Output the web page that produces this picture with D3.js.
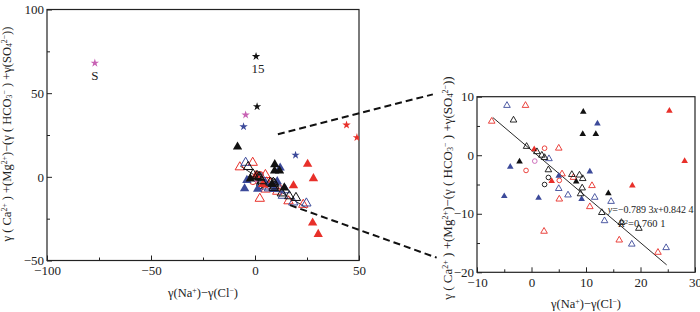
<!DOCTYPE html>
<html>
<head>
<meta charset="utf-8">
<script src="https://cdn.jsdelivr.net/npm/d3@7"></script>
<style>
  body { margin: 0; background: #fff; }
  svg, svg text { font-family: 'Liberation Serif', 'Times New Roman', 'DejaVu Serif', serif; }
</style>
</head>
<body>
<svg id="chart" width="700" height="312"></svg>
<script>
// Values: [γ(Na+)−γ(Cl−), γ(Ca2+)+γ(Mg2+)−(γ(HCO3−)+γ(SO42−))]
const blackFilled = [[9.5, 7.4], [9.4, 3.6], [11.8, 3.6], [-2.2, -1.1], [8.2, -4.5], [14.1, -6.5], [-8.4, 17.9]];
const blueFilled = [[12.1, 5.4], [-3.9, -2.0], [5.0, -3.5], [10.7, -2.8], [-5.0, -7.0], [1.3, -7.3], [9.2, -7.5]];
const redFilled = [[25.3, 7.6], [28.1, -1.0], [18.5, -5.2], [0.5, 1.0], [3.7, -4.4], [27.7, -27.5], [30.4, -34.3]];
const redOpen = [[-7.3, 5.8], [-1.1, 8.5], [5.0, 1.2], [5.6, -3.2], [7.7, -3.8], [11.1, -5.2], [5.1, -7.5],
  [10.7, -8.8], [2.3, -13.0], [16.1, -14.5], [23.2, -16.6]];
const blueOpen = [[-4.5, 8.5], [3.2, -0.6], [5.0, -5.7], [6.7, -6.8], [11.6, -7.2], [14.6, -7.9], [13.4, -11.2],
  [18.4, -15.2], [24.7, -15.8]];
const blackOpen = [[-3.3, 6.0], [-0.9, 1.5], [1.0, 0.6], [1.9, 0.0], [2.4, -0.4], [3.1, -2.5], [7.4, -3.3],
  [8.8, -3.4], [9.4, -4.0], [9.3, -5.6], [9.0, -6.6], [12.9, -9.8], [16.5, -11.5], [19.7, -12.5]];
const redCircles = [[2.4, 1.2], [-1.0, -2.6], [5.1, -4.3]];
const blackCircles = [[3.1, -3.8], [2.4, -5.0]];
const pinkCircles = [[0.6, -1.0]];
const blackStars = [[0.5, 72], [1, 42]];
const pinkStars = [[-77, 68], [-4.5, 37]];
const blueStars = [[-5.5, 30], [19.5, 13]];
const redStars = [[44, 31], [49, 23.5]];
const starLabels = [{at: [-77, 68], text: 'S'}, {at: [0.5, 72], text: '15'}];

// Linear fit shown in the zoomed panel
const fit = {slope: -0.7893, intercept: 0.8424, from: -7.1, to: 24.8};

const leftTicks = {x: [-100, -50, 0, 50], xMinor: [-75, -25, 25], y: [-50, 0, 50, 100], yMinor: [-25, 25, 75]};
const rightTicks = {x: [-10, 0, 10, 20, 30], xMinor: [-5, 5, 15, 25], y: [-20, -10, 0, 10], yMinor: [-15, -5, 5]};

const RED = '#e8302a', BLUE = '#3c4a9a', PINK = '#c862b4', BLACK = '#111';
const FONT = "'Liberation Serif', 'Times New Roman', serif";

const series = [
  {data: redOpen, shape: d3.symbolTriangle, color: RED, filled: false},
  {data: blueOpen, shape: d3.symbolTriangle, color: BLUE, filled: false},
  {data: redCircles, shape: d3.symbolCircle, color: RED, filled: false},
  {data: blackCircles, shape: d3.symbolCircle, color: BLACK, filled: false},
  {data: pinkCircles, shape: d3.symbolCircle, color: PINK, filled: false},
  {data: blueFilled, shape: d3.symbolTriangle, color: BLUE, filled: true},
  {data: redFilled, shape: d3.symbolTriangle, color: RED, filled: true},
  {data: blackOpen, shape: d3.symbolTriangle, color: BLACK, filled: false},
  {data: blackFilled, shape: d3.symbolTriangle, color: BLACK, filled: true},
  {data: blackStars, shape: d3.symbolStar, color: BLACK, filled: true},
  {data: pinkStars, shape: d3.symbolStar, color: PINK, filled: true},
  {data: blueStars, shape: d3.symbolStar, color: BLUE, filled: true},
  {data: redStars, shape: d3.symbolStar, color: RED, filled: true},
];

const svg = d3.select('#chart').attr('font-family', FONT);
const fmt = d3.format('d');

// Y title with super/subscripts: γ ( Ca2+ ) +(Mg2+)−(γ ( HCO3− ) +γ(SO42−))
const yTitleParts = [
  ['γ ( Ca'], ['2+', 'sup'], [' ) +(Mg'], ['2+', 'sup'], [')−(γ ( HCO'], ['3', 'sub'], ['−', 'sup'],
  [' ) +γ(SO'], ['4', 'sub'], ['2−', 'sup'], ['))'],
];
const xTitleParts = [['γ(Na'], ['+', 'sup'], [')−γ(Cl'], ['−', 'sup'], [')']];

function richText(sel, parts, size) {
  sel.attr('font-family', FONT);
  parts.forEach(([t, kind]) => {
    const ts = sel.append('tspan').text(t);
    if (kind) {
      ts.attr('font-size', size * 0.62)
        .attr('baseline-shift', kind === 'sup' ? '45%' : '-15%');
    }
  });
}

function panel({xDomain, yDomain, xRange, yRange, ticks, id, sizes}) {
  const x = d3.scaleLinear().domain(xDomain).range(xRange);
  const y = d3.scaleLinear().domain(yDomain).range(yRange);
  const g = svg.append('g');

  svg.append('clipPath').attr('id', id)
    .append('rect')
      .attr('x', xRange[0]).attr('y', yRange[1])
      .attr('width', xRange[1] - xRange[0]).attr('height', yRange[0] - yRange[1]);

  // inward ticks, major with labels and minor without
  const styleAxis = a => a
    .attr('font-family', FONT)
    .attr('font-size', 13)
    .call(a => a.select('.domain').remove())
    .call(a => a.selectAll('.tick line').attr('stroke', '#222'))
    .call(a => a.selectAll('.tick text').attr('fill', '#222'));

  g.append('g').attr('transform', `translate(0,${yRange[0]})`)
    .call(d3.axisBottom(x).tickValues(ticks.x).tickSize(-5).tickPadding(5).tickFormat(fmt))
    .call(styleAxis);
  g.append('g').attr('transform', `translate(0,${yRange[0]})`)
    .call(d3.axisBottom(x).tickValues(ticks.xMinor).tickSize(-3).tickFormat(''))
    .call(styleAxis);
  g.append('g').attr('transform', `translate(${xRange[0]},0)`)
    .call(d3.axisLeft(y).tickValues(ticks.y).tickSize(-5).tickPadding(3).tickFormat(fmt))
    .call(styleAxis);
  g.append('g').attr('transform', `translate(${xRange[0]},0)`)
    .call(d3.axisLeft(y).tickValues(ticks.yMinor).tickSize(-3).tickFormat(''))
    .call(styleAxis);

  g.append('rect')
    .attr('x', xRange[0]).attr('y', yRange[1])
    .attr('width', xRange[1] - xRange[0]).attr('height', yRange[0] - yRange[1])
    .attr('fill', 'none')
    .attr('stroke', '#222')
    .attr('stroke-width', 1.2);

  const marks = g.append('g').attr('clip-path', `url(#${id})`);

  marks.append('line')
    .attr('x1', x(fit.from)).attr('y1', y(fit.slope * fit.from + fit.intercept))
    .attr('x2', x(fit.to)).attr('y2', y(fit.slope * fit.to + fit.intercept))
    .attr('stroke', BLACK)
    .attr('stroke-width', 0.9);

  series.forEach(s => {
    const size = s.shape === d3.symbolTriangle ? sizes.triangle
      : s.shape === d3.symbolCircle ? sizes.circle : sizes.star;
    marks.append('g')
      .selectAll('path')
      .data(s.data)
      .join('path')
        .attr('transform', d => `translate(${x(d[0])},${y(d[1])})`)
        .attr('d', d3.symbol(s.shape, size))
        .attr('fill', s.filled ? s.color : 'none')
        .attr('stroke', s.filled ? 'none' : s.color)
        .attr('stroke-width', sizes.stroke);
  });

  const xMid = (xRange[0] + xRange[1]) / 2;
  richText(g.append('text')
    .attr('x', xMid).attr('y', yRange[0] + 36)
    .attr('text-anchor', 'middle')
    .attr('font-size', 12.5)
    .attr('fill', '#222'), xTitleParts, 12.5);

  return {x, y, g};
}

const left = panel({
  id: 'clip-left',
  xDomain: [-100, 50], yDomain: [-50, 100],
  xRange: [47, 359], yRange: [260.5, 9.5],
  ticks: leftTicks,
  sizes: {triangle: 38, circle: 36, star: 22, stroke: 1},
});

const right = panel({
  id: 'clip-right',
  xDomain: [-10, 30], yDomain: [-20, 10],
  xRange: [477, 695], yRange: [272.3, 96.7],
  ticks: rightTicks,
  sizes: {triangle: 19, circle: 17, star: 14, stroke: 0.9},
});

// Y axis titles
richText(svg.append('text')
  .attr('transform', `translate(11,${134}) rotate(-90)`)
  .attr('text-anchor', 'middle')
  .attr('font-size', 12.5)
  .attr('fill', '#222'), yTitleParts, 12.5);

richText(svg.append('text')
  .attr('transform', `translate(452,${188}) rotate(-90)`)
  .attr('text-anchor', 'middle')
  .attr('font-size', 13)
  .attr('fill', '#222'), yTitleParts, 13);

// Star labels in the overview panel
left.g.selectAll('.star-label')
  .data(starLabels)
  .join('text')
    .attr('x', d => left.x(d.at[0]) + (d.text === 'S' ? 0 : 2))
    .attr('y', d => left.y(d.at[1]) + 17)
    .attr('text-anchor', 'middle')
    .attr('font-family', FONT)
    .attr('font-size', 13)
    .attr('fill', '#222')
    .text(d => d.text);

// Fit equation in the zoomed panel
const eq = right.g.append('text')
  .attr('x', right.x(14.0)).attr('y', right.y(-9.9))
  .attr('font-family', FONT)
  .attr('font-size', 10)
  .attr('fill', '#222');
eq.append('tspan').attr('font-style', 'italic').text('y');
eq.append('tspan').text('=−0.789 3');
eq.append('tspan').attr('font-style', 'italic').text('x');
eq.append('tspan').text('+0.842 4');

const r2 = right.g.append('text')
  .attr('x', right.x(15.9)).attr('y', right.y(-12.3))
  .attr('font-family', FONT)
  .attr('font-size', 10.5)
  .attr('fill', '#222');
r2.append('tspan').attr('font-style', 'italic').text('R');
r2.append('tspan').attr('font-size', 7).attr('baseline-shift', '45%').text('2');
r2.append('tspan').text('=0.760 1');

// Dashed connectors from the overview region to the zoomed panel
const connectors = [
  {from: [11, 25.5], to: [-18.1, 10.4]},
  {from: [16.8, -16.9], to: [-17.4, -17.5]},
];
svg.selectAll('.connector')
  .data(connectors)
  .join('line')
    .attr('x1', d => left.x(d.from[0])).attr('y1', d => left.y(d.from[1]))
    .attr('x2', d => right.x(d.to[0])).attr('y2', d => right.y(d.to[1]))
    .attr('stroke', BLACK)
    .attr('stroke-width', 2)
    .attr('stroke-dasharray', '7 4');
</script>
</body>
</html>
